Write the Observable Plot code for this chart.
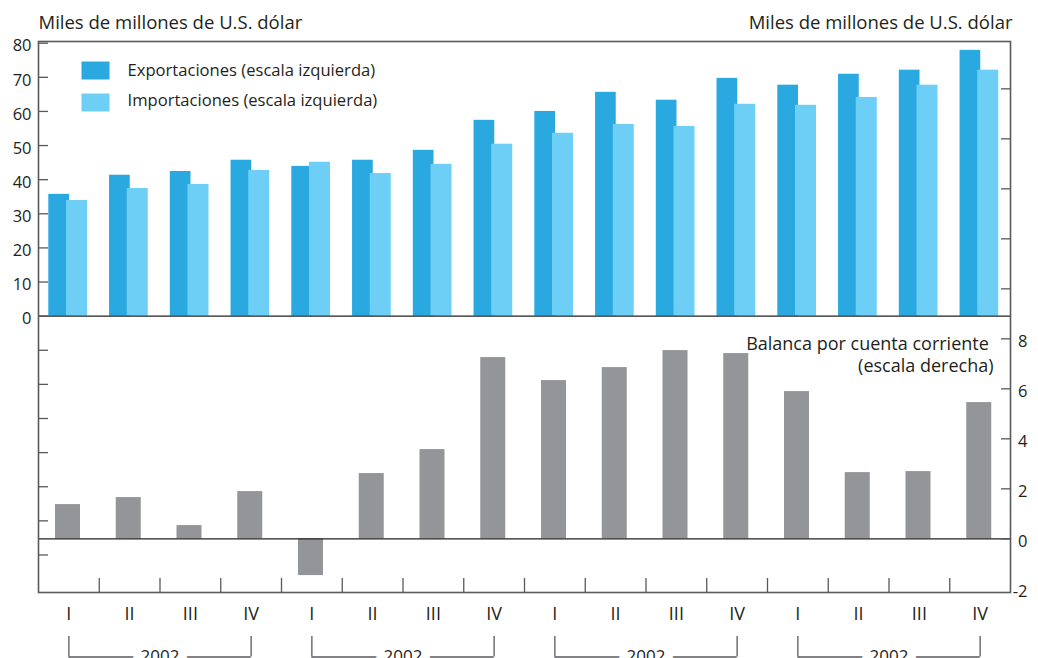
<!DOCTYPE html>
<html>
<head>
<meta charset="utf-8">
<script src="https://cdn.jsdelivr.net/npm/d3@7"></script>
<script src="https://cdn.jsdelivr.net/npm/@observablehq/plot@0.6"></script>
<style>
  html, body { margin: 0; padding: 0; background: #fff; overflow: hidden; }
  #chart svg { display: block; }
</style>
</head>
<body>
<div id="chart"></div>
<script>
// ---- data ----
const quarters = ["I","II","III","IV","I","II","III","IV","I","II","III","IV","I","II","III","IV"];
const years = ["2002","2002","2002","2002"];
const exportaciones = [35.7, 41.3, 42.4, 45.7, 43.9, 45.7, 48.6, 57.4, 60.0, 65.6, 63.3, 69.7, 67.7, 70.9, 72.1, 77.9];
const importaciones = [33.9, 37.4, 38.6, 42.7, 45.1, 41.8, 44.5, 50.4, 53.6, 56.2, 55.6, 62.1, 61.8, 64.1, 67.7, 72.1];
const balanca = [1.37, 1.65, 0.53, 1.89, -1.47, 2.61, 3.57, 7.25, 6.33, 6.85, 7.53, 7.41, 5.89, 2.65, 2.69, 5.45];
const leftTicks = [-70, -60, -50, -40, -30, -20, -10, 0, 10, 20, 30, 40, 50, 60, 70, 80];
const leftLabels = [0, 10, 20, 30, 40, 50, 60, 70, 80];
const rightTicks = [0, 2, 4, 6, 8, 10, 12, 14, 16, 18];
const rightLabels = [-2, 0, 2, 4, 6, 8];
const titleLeft = "Miles de millones de U.S. dólar";
const titleRight = "Miles de millones de U.S. dólar";
const legendExp = "Exportaciones (escala izquierda)";
const legendImp = "Importaciones (escala izquierda)";
const balLabel = "Balanca por cuenta corriente \n(escala derecha)";

// ---- layout ----
const W = 1038, H = 658;
const mL = 38, mR = 28, mT = 41, mB = 66;
const bw = (W - mL - mR) / quarters.length;
const yDomain = [-81, 80.5];
// right-hand scale (balance) expressed on the left-hand scale
const conv = d3.scaleLinear([0, 8], [-65.27, -6.65]);

const keys = quarters.map((q, i) => i);
const rows = keys.map(i => ({k: i, exp: exportaciones[i], imp: importaciones[i], bal: balanca[i]}));
const groups = years.map((y, g) => ({g, year: y, first: g * 4, last: g * 4 + 3}));

const ink = "#231f20";
const axisInk = "#58595b";
const cExp = "#29a9e0", cImp = "#6dcff6", cBal = "#939598";

const rectSymbol = {draw(ctx) { ctx.rect(-14, -9, 28, 18); }};

const chart = Plot.plot({
  width: W, height: H,
  marginLeft: mL, marginRight: mR, marginTop: mT, marginBottom: mB,
  style: {fontFamily: "'Open Sans', sans-serif", fontSize: "16px", color: ink, background: "#fff", overflow: "visible"},
  x: {type: "band", domain: keys, padding: 0, round: false},
  y: {domain: yDomain},
  marks: [
    // bars
    Plot.barY(rows, {x: "k", y: "exp", fill: cExp, insetLeft: 10.3, insetRight: 29.75}),
    Plot.barY(rows, {x: "k", y: "imp", fill: cImp, insetLeft: 28, insetRight: 11.75}),
    Plot.barY(rows, {x: "k", y1: () => conv(0), y2: d => conv(d.bal), fill: cBal, insetLeft: 17, insetRight: 18.75}),
    // zero lines
    Plot.ruleY([0], {stroke: ink, strokeWidth: 1.3}),
    Plot.ruleY([conv(0)], {stroke: ink, strokeWidth: 1.3}),
    Plot.frame({stroke: axisInk, strokeWidth: 1.6}),
    // left axis
    Plot.axisY({anchor: "left", ticks: leftTicks, tickSize: 10, dx: 10, fill: "none", label: null, stroke: axisInk, strokeWidth: 1.3}),
    Plot.text(leftLabels, {y: d => d, frameAnchor: "left", dx: -7, dy: 3, textAnchor: "end", lineAnchor: "middle",
      text: d => String(d), fontSize: 16.5, fill: ink}),
    // right axis
    Plot.axisY({anchor: "right", ticks: rightTicks.map(conv), tickSize: 10, dx: -10, fill: "none", label: null, stroke: axisInk, strokeWidth: 1.3}),
    Plot.text(rightLabels, {y: d => conv(d), frameAnchor: "right", dx: 17, dy: 3, textAnchor: "end", lineAnchor: "middle",
      text: d => String(d), fontSize: 16.5, fill: ink}),
    // x axis
    Plot.axisX({anchor: "bottom", ticks: keys.slice(1), tickSize: 14, dy: -14, dx: -bw / 2, fill: "none", label: null, stroke: axisInk, strokeWidth: 1.3}),
    Plot.axisX({anchor: "bottom", tickSize: 0, tickPadding: 15, label: null, fontSize: 18, fill: ink, tickFormat: i => quarters[i]}),
    // year brackets
    Plot.ruleX(groups.flatMap(d => [d.first, d.last]), {x: d => d, insetTop: 595, insetBottom: -64.5, stroke: axisInk, strokeWidth: 1.3}),
    Plot.ruleY(groups, {y: () => yDomain[0], x1: "first", x2: "last", dy: 64.5, insetLeft: bw / 2, insetRight: bw / 2, stroke: axisInk, strokeWidth: 1.3}),
    Plot.text(groups, {x: d => d.first + 1, dx: bw / 2, y: () => yDomain[0], dy: 64, text: "year", lineAnchor: "middle",
      fontSize: 17, fill: ink, stroke: "#fff", strokeWidth: 18}),
    // titles
    Plot.text([titleLeft], {frameAnchor: "top-left", textAnchor: "start", lineAnchor: "bottom", dy: -13, fontSize: 18.5, fill: ink}),
    Plot.text([titleRight], {frameAnchor: "top-right", textAnchor: "end", lineAnchor: "bottom", dx: 2, dy: -13, fontSize: 18.5, fill: ink}),
    // legend
    Plot.dot([0], {frameAnchor: "top-left", dx: 57, dy: 29, symbol: rectSymbol, fill: cExp, stroke: "none"}),
    Plot.dot([0], {frameAnchor: "top-left", dx: 57, dy: 61, symbol: rectSymbol, fill: cImp, stroke: "none"}),
    Plot.text([legendExp], {frameAnchor: "top-left", dx: 89, dy: 29, textAnchor: "start", lineAnchor: "middle", fontSize: 16.6, fill: ink}),
    Plot.text([legendImp], {frameAnchor: "top-left", dx: 89, dy: 59, textAnchor: "start", lineAnchor: "middle", fontSize: 16.6, fill: ink}),
    // balance label
    Plot.text([balLabel], {frameAnchor: "right", y: () => conv(8), dx: -17, dy: -4, textAnchor: "end", lineAnchor: "top",
      lineHeight: 1.22, fontSize: 18, fill: ink})
  ]
});
document.getElementById("chart").appendChild(chart);
</script>
</body>
</html>
